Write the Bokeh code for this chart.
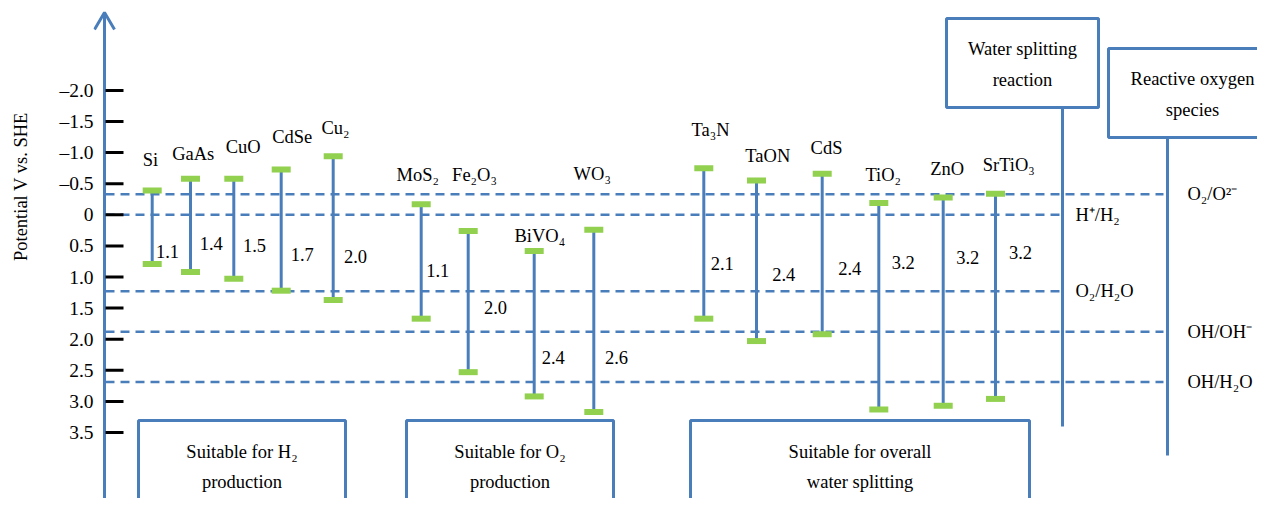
from math import pi
from bokeh.plotting import figure
from bokeh.layouts import row
from bokeh.models import Range1d, FixedTicker, ColumnDataSource
from bokeh.core.properties import value
from bokeh.embed import file_html
from bokeh.resources import INLINE

# ---------------- data ----------------
names = ["Si", "GaAs", "CuO", "CdSe", "Cu₂", "MoS₂", "Fe₂O₃", "BiVO₄", "WO₃",
         "Ta₃N", "TaON", "CdS", "TiO₂", "ZnO", "SrTiO₃"]
cb = [-0.39, -0.58, -0.58, -0.73, -0.94, -0.17, 0.26, 0.58, 0.24,
      -0.75, -0.55, -0.66, -0.19, -0.28, -0.34]
vb = [0.79, 0.92, 1.03, 1.22, 1.37, 1.67, 2.53, 2.92, 3.17,
      1.67, 2.03, 1.92, 3.13, 3.07, 2.96]
gaps = ["1.1", "1.4", "1.5", "1.7", "2.0", "1.1", "2.0", "2.4", "2.6",
        "2.1", "2.4", "2.4", "3.2", "3.2", "3.2"]

redox_labels = ["O₂/O²⁻", "H⁺/H₂", "O₂/H₂O", "OH/OH⁻", "OH/H₂O"]
redox_values = [-0.33, 0.0, 1.23, 1.88, 2.69]

tick_values = [-2.0, -1.5, -1.0, -0.5, 0.0, 0.5, 1.0, 1.5, 2.0, 2.5, 3.0, 3.5]
tick_labels = ["–2.0", "–1.5", "–1.0", "–0.5", "0", "0.5", "1.0", "1.5",
               "2.0", "2.5", "3.0", "3.5"]

axis_title = "Potential V vs. SHE"
box_texts = [["Suitable for H₂", "production"],
             ["Suitable for O₂", "production"],
             ["Suitable for overall", "water splitting"]]
top_box_texts = [["Water splitting", "reaction"],
                 ["Reactive oxygen", "species"]]

# ---------------- layout (pixels) ----------------
W, H = 1257, 498
TW = 40                      # width of the strip holding the axis title
LEFT = 93                    # frame left edge (page pixels)
Y0, K = 214.3, 62.2          # pixel y of 0 V, pixels per volt


def v(ypx):
    return (ypx - Y0) / K


BLUE = "#4A7EBB"
GREEN = "#92D050"
FONT = "Liberation Serif"
FS_TICK = "19.5px"
FS2 = "18.5px"

bar_x = [151.7, 190, 233.3, 280.7, 332.7, 420.7, 467.7, 533.7, 593.3,
         703.3, 756, 821.7, 878.3, 942.7, 995]
name_xy = [(150, 159), (192.7, 153), (242.7, 146.7), (291.7, 136), (335, 127.7),
           (417.3, 174), (474, 174), (539.3, 235), (591.7, 173.3),
           (710, 129.3), (767.3, 155), (826, 147.3), (882.7, 174), (946.7, 168.3),
           (1008.3, 164.3)]
gap_xy = [(167, 250.7), (210.7, 243.3), (254, 245), (301.7, 254), (355, 256),
          (437.3, 270), (495, 307.3), (552.7, 356.7), (616, 356.7),
          (721.7, 262.7), (783.3, 274), (849.3, 268.3), (902.7, 261.7),
          (967.3, 256.7), (1020, 252.3)]
redox_x1 = [1163, 1062, 1062, 1163, 1163]
redox_lab_x = [1187, 1075, 1075, 1187, 1187]

# ---- narrow strip with the rotated axis title ----
pt = figure(width=TW, height=H, output_backend="svg", toolbar_location=None,
            x_range=Range1d(0, TW), y_range=Range1d(v(H), v(0)),
            x_axis_location=None, y_axis_location=None,
            min_border_left=0, min_border_right=0, min_border_top=0, min_border_bottom=0,
            outline_line_color=None)
pt.grid.visible = False
pt.text(x=[20], y=[v(186)], text=[axis_title], angle=pi / 2, text_font=value(FONT),
        text_font_size=FS2, text_align="center", text_baseline="middle",
        text_color="black")

# ---- main diagram ----
p = figure(width=W - TW, height=H, output_backend="svg", toolbar_location=None,
           x_range=Range1d(LEFT, W), y_range=Range1d(v(H), v(0)),
           x_axis_location=None, y_axis_location="left",
           min_border_left=LEFT - TW, min_border_right=0, min_border_top=0,
           min_border_bottom=0, outline_line_color=None)
p.grid.visible = False

ax = p.yaxis[0]
ax.ticker = FixedTicker(ticks=tick_values)
ax.major_label_overrides = {t: l for t, l in zip(tick_values, tick_labels)}
ax.axis_line_color = None
ax.major_tick_line_color = None
ax.minor_tick_line_color = None
ax.major_tick_in = 0
ax.major_tick_out = 0
ax.major_label_standoff = 0
ax.major_label_text_font = FONT
ax.major_label_text_font_size = FS_TICK
ax.major_label_text_color = "black"

# dashed redox levels
p.segment(x0=[105] * len(redox_values), x1=redox_x1, y0=redox_values, y1=redox_values,
          line_color=BLUE, line_width=2.5, line_dash="9 6")
p.text(x=redox_lab_x, y=redox_values, text=redox_labels, text_font=value(FONT),
       text_font_size=FS2, text_baseline="middle", text_align="left", text_color="black")

# axis line with arrow head and ticks
p.segment(x0=[104], x1=[104], y0=[v(12)], y1=[v(520)], line_color=BLUE, line_width=3)
p.line(x=[94, 104, 114], y=[v(29), v(12), v(29)], line_color=BLUE, line_width=3)
p.segment(x0=[105] * len(tick_values), x1=[123] * len(tick_values),
          y0=tick_values, y1=tick_values, line_color="black", line_width=3)

# band edges
src = ColumnDataSource(dict(x=bar_x, cb=cb, vb=vb, name=names, gap=gaps,
                            nx=[a for a, b in name_xy], ny=[v(b) for a, b in name_xy],
                            gx=[a for a, b in gap_xy], gy=[v(b) for a, b in gap_xy]))
p.segment(x0="x", x1="x", y0="cb", y1="vb", source=src, line_color=BLUE, line_width=3)
p.rect(x="x", y="cb", width=19, height=6, height_units="screen", source=src,
       fill_color=GREEN, line_color=None)
p.rect(x="x", y="vb", width=19, height=6, height_units="screen", source=src,
       fill_color=GREEN, line_color=None)
p.text(x="nx", y="ny", text="name", source=src, text_font=value(FONT), text_font_size=FS2,
       text_align="center", text_baseline="middle", text_color="black")
p.text(x="gx", y="gy", text="gap", source=src, text_font=value(FONT), text_font_size=FS2,
       text_align="center", text_baseline="middle", text_color="black")

# bottom category boxes
bl = [138, 406, 690]
br = [345, 613, 1029]
p.quad(left=bl, right=br, top=[v(420)] * 3, bottom=[v(540)] * 3,
       fill_color=None, line_color=BLUE, line_width=3)
for (l, r), (t1, t2) in zip(zip(bl, br), box_texts):
    p.text(x=[(l + r) / 2] * 2, y=[v(451), v(481)], text=[t1, t2], text_font=value(FONT),
           text_font_size=FS2, text_align="center", text_baseline="middle",
           text_color="black")

# top-right boxes with vertical connectors
tl = [946, 1108]
tr = [1098, 1290]
tt = [18, 48]
tb = [107, 137]
p.quad(left=tl, right=tr, top=[v(t) for t in tt], bottom=[v(b) for b in tb],
       fill_color=None, line_color=BLUE, line_width=3)
p.segment(x0=[1062, 1167], x1=[1062, 1167], y0=[v(107), v(137)], y1=[v(426), v(455)],
          line_color=BLUE, line_width=3)
text_cx = [1022, 1192]
for cx, t, (t1, t2) in zip(text_cx, tt, top_box_texts):
    p.text(x=[cx] * 2, y=[v(t + 30), v(t + 61)], text=[t1, t2], text_font=value(FONT),
           text_font_size=FS2, text_align="center", text_baseline="middle",
           text_color="black")

layout = row(pt, p, spacing=0)
open("out.html", "w").write(file_html(layout, INLINE))
